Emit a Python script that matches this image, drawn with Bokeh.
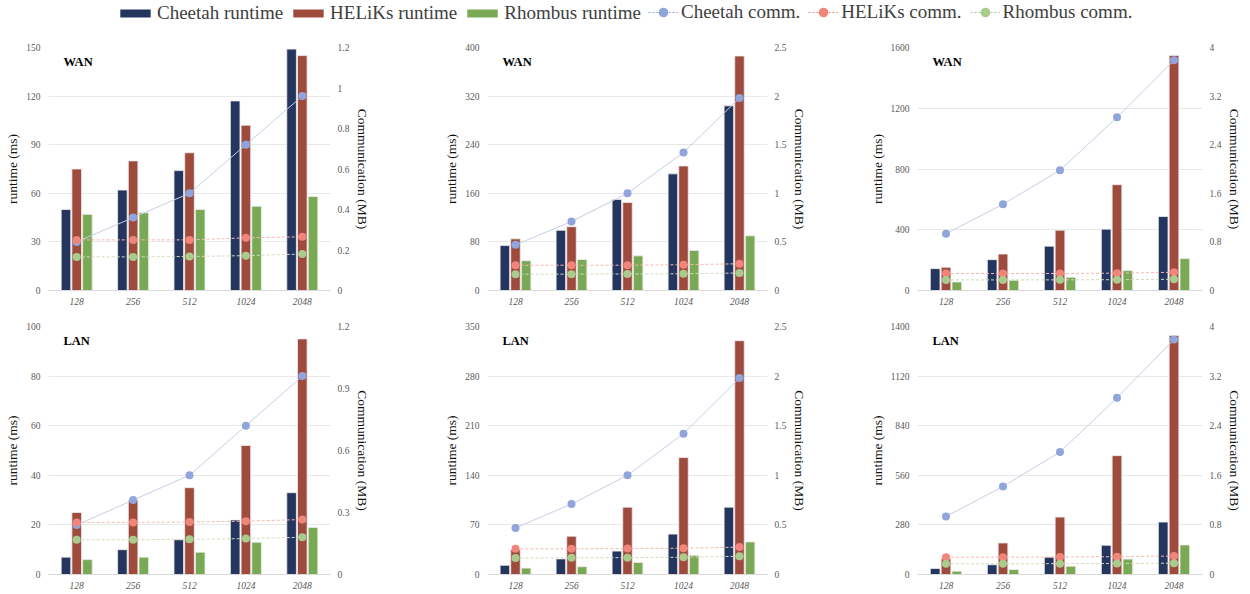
from bokeh.plotting import figure
from bokeh.models import (ColumnDataSource, Range1d, LinearAxis, FixedTicker,
                          CustomJSTickFormatter, Label, Legend, LegendItem)
from bokeh.layouts import column, row
from bokeh.transform import dodge
from bokeh.embed import file_html
from bokeh.resources import INLINE

# ---------------- data ----------------
sizes = ["128", "256", "512", "1024", "2048"]

# WAN, panel A
wan_a_cheetah_rt = [50, 62, 74, 117, 149]
wan_a_heliks_rt = [75, 80, 85, 102, 145]
wan_a_rhombus_rt = [47, 48, 50, 52, 58]
wan_a_cheetah_comm = [0.24, 0.36, 0.48, 0.72, 0.96]
wan_a_heliks_comm = [0.25, 0.25, 0.25, 0.26, 0.265]
wan_a_rhombus_comm = [0.166, 0.166, 0.168, 0.172, 0.18]
wan_a_rt_ticks = [0, 30, 60, 90, 120, 150]
wan_a_comm_ticks = [0, 0.2, 0.4, 0.6, 0.8, 1.0, 1.2]

# WAN, panel B
wan_b_cheetah_rt = [74, 99, 150, 192, 304]
wan_b_heliks_rt = [85, 105, 145, 205, 386]
wan_b_rhombus_rt = [49, 51, 57, 66, 90]
wan_b_cheetah_comm = [0.47, 0.71, 1.0, 1.42, 1.98]
wan_b_heliks_comm = [0.26, 0.26, 0.26, 0.265, 0.275]
wan_b_rhombus_comm = [0.168, 0.168, 0.17, 0.172, 0.18]
wan_b_rt_ticks = [0, 80, 160, 240, 320, 400]
wan_b_comm_ticks = [0, 0.5, 1.0, 1.5, 2.0, 2.5]

# WAN, panel C
wan_c_cheetah_rt = [144, 203, 292, 404, 487]
wan_c_heliks_rt = [153, 240, 397, 697, 1548]
wan_c_rhombus_rt = [56, 68, 87, 131, 210]
wan_c_cheetah_comm = [0.935, 1.42, 1.98, 2.85, 3.79]
wan_c_heliks_comm = [0.28, 0.28, 0.28, 0.285, 0.3]
wan_c_rhombus_comm = [0.174, 0.174, 0.175, 0.178, 0.185]
wan_c_rt_ticks = [0, 400, 800, 1200, 1600]
wan_c_comm_ticks = [0, 0.8, 1.6, 2.4, 3.2, 4.0]

# LAN, panel A
lan_a_cheetah_rt = [7, 10, 14, 22, 33]
lan_a_heliks_rt = [25, 30, 35, 52, 95]
lan_a_rhombus_rt = [6, 7, 9, 13, 19]
lan_a_cheetah_comm = [0.24, 0.36, 0.48, 0.72, 0.96]
lan_a_heliks_comm = [0.252, 0.252, 0.254, 0.258, 0.266]
lan_a_rhombus_comm = [0.168, 0.168, 0.17, 0.174, 0.18]
lan_a_rt_ticks = [0, 20, 40, 60, 80, 100]
lan_a_comm_ticks = [0, 0.3, 0.6, 0.9, 1.2]

# LAN, panel B
lan_b_cheetah_rt = [13, 22, 33, 57, 95]
lan_b_heliks_rt = [35, 54, 95, 165, 330]
lan_b_rhombus_rt = [9, 11, 17, 27, 46]
lan_b_cheetah_comm = [0.47, 0.71, 1.0, 1.42, 1.98]
lan_b_heliks_comm = [0.259, 0.259, 0.262, 0.265, 0.276]
lan_b_rhombus_comm = [0.167, 0.168, 0.17, 0.174, 0.184]
lan_b_rt_ticks = [0, 70, 140, 210, 280, 350]
lan_b_comm_ticks = [0, 0.5, 1.0, 1.5, 2.0, 2.5]

# LAN, panel C
lan_c_cheetah_rt = [34, 55, 98, 165, 296]
lan_c_heliks_rt = [89, 178, 324, 671, 1349]
lan_c_rhombus_rt = [19, 28, 47, 87, 167]
lan_c_cheetah_comm = [0.935, 1.42, 1.975, 2.85, 3.79]
lan_c_heliks_comm = [0.28, 0.28, 0.283, 0.287, 0.297]
lan_c_rhombus_comm = [0.172, 0.172, 0.175, 0.178, 0.183]
lan_c_rt_ticks = [0, 280, 560, 840, 1120, 1400]
lan_c_comm_ticks = [0, 0.8, 1.6, 2.4, 3.2, 4.0]

series_labels = ["Cheetah runtime", "HELiKs runtime", "Rhombus runtime",
                 "Cheetah comm.", "HELiKs comm.", "Rhombus comm."]

# ---------------- style ----------------
FONT = "Liberation Serif"
C_CH, C_HE, C_RH = "#24355e", "#9e4a3d", "#7aa955"
D_CH, D_HE, D_RH = "#8fa5dc", "#f1857b", "#a9cc8c"
L_CH, L_HE, L_RH = "#c6cee6", "#f2bab3", "#d2dbbf"
TICK_COLOR = "#595959"

COL_BORDERS = [(48, 100), (57, 73), (77, 48)]
COL_WIDTHS = [430, 410, 410]
ROW_SPECS = {0: dict(height=284, top=21, bottom=20),
             1: dict(height=284, top=16, bottom=20)}


def style_yaxis(ax, label):
    ax.axis_label = label
    ax.axis_label_text_font = FONT
    ax.axis_label_text_font_style = "normal"
    ax.axis_label_text_font_size = "13.5px"
    ax.axis_label_text_color = "#111111"
    ax.axis_label_standoff = 3
    ax.major_label_text_font = FONT
    ax.major_label_text_font_size = "9.5px"
    ax.major_label_text_color = TICK_COLOR
    ax.major_label_standoff = 8
    ax.axis_line_color = None
    ax.major_tick_line_color = None
    ax.minor_tick_line_color = None
    ax.major_tick_out = 0
    ax.major_tick_in = 0
    ax.minor_tick_out = 0
    ax.minor_tick_in = 0


def make_panel(net, rt_ch, rt_he, rt_rh, cm_ch, cm_he, cm_rh, rt_ticks, cm_ticks, col, r):
    spec = ROW_SPECS[r]
    left, right = COL_BORDERS[col]
    p = figure(x_range=sizes, y_range=Range1d(0, rt_ticks[-1]),
               width=COL_WIDTHS[col], height=spec["height"],
               min_border_left=left, min_border_right=right,
               min_border_top=spec["top"], min_border_bottom=spec["bottom"],
               toolbar_location=None, output_backend="svg")
    p.extra_y_ranges = {"comm": Range1d(0, cm_ticks[-1])}
    p.outline_line_color = None
    p.background_fill_color = "white"

    src = ColumnDataSource(dict(size=sizes, ch=rt_ch, he=rt_he, rh=rt_rh,
                                cch=cm_ch, che=cm_he, crh=cm_rh))
    bw = 0.17
    p.vbar(x=dodge("size", -0.19, range=p.x_range), top="ch", width=bw, source=src,
           fill_color=C_CH, line_color="#eeeeee", line_width=0.8)
    p.vbar(x=dodge("size", 0.0, range=p.x_range), top="he", width=bw, source=src,
           fill_color=C_HE, line_color="#eeeeee", line_width=0.8)
    p.vbar(x=dodge("size", 0.19, range=p.x_range), top="rh", width=bw, source=src,
           fill_color=C_RH, line_color="#eeeeee", line_width=0.8)

    p.line(x="size", y="cch", source=src, y_range_name="comm", line_color=L_CH, line_width=1)
    p.line(x="size", y="che", source=src, y_range_name="comm", line_color=L_HE, line_width=1,
           line_dash="3 2")
    p.line(x="size", y="crh", source=src, y_range_name="comm", line_color=L_RH, line_width=1,
           line_dash="3 2")
    p.scatter(x="size", y="cch", source=src, y_range_name="comm", size=8,
              fill_color=D_CH, line_color=None)
    p.scatter(x="size", y="che", source=src, y_range_name="comm", size=8,
              fill_color=D_HE, line_color=None)
    p.scatter(x="size", y="crh", source=src, y_range_name="comm", size=8,
              fill_color=D_RH, line_color=None)

    # left axis + grid
    ya = p.yaxis[0]
    ya.ticker = FixedTicker(ticks=rt_ticks)
    p.ygrid.ticker = FixedTicker(ticks=rt_ticks)
    p.ygrid.grid_line_color = "#e8e8e8"
    p.xgrid.grid_line_color = None
    style_yaxis(ya, "runtime (ms)")

    # right axis
    ra = LinearAxis(y_range_name="comm", ticker=FixedTicker(ticks=cm_ticks),
                    formatter=CustomJSTickFormatter(code="return String(parseFloat(tick.toFixed(2)));"))
    style_yaxis(ra, "Communication (MB)")
    ra.major_label_standoff = 7
    ra.axis_label_standoff = 3
    p.add_layout(ra, "right")

    # x axis
    xa = p.xaxis[0]
    xa.axis_line_color = "#d9d9d9"
    xa.major_tick_line_color = None
    xa.minor_tick_line_color = None
    xa.major_tick_out = 0
    xa.major_tick_in = 0
    xa.minor_tick_out = 0
    xa.major_label_text_font = FONT
    xa.major_label_text_font_style = "italic"
    xa.major_label_text_font_size = "9.5px"
    xa.major_label_text_color = TICK_COLOR
    xa.major_label_standoff = 7

    p.add_layout(Label(x=0, y=rt_ticks[-1], x_offset=15, y_offset=-14, text=net,
                       text_font=FONT, text_font_style="bold", text_font_size="12.5px",
                       text_color="black", text_baseline="middle"))
    return p


panels_top = [
    make_panel("WAN", wan_a_cheetah_rt, wan_a_heliks_rt, wan_a_rhombus_rt,
               wan_a_cheetah_comm, wan_a_heliks_comm, wan_a_rhombus_comm,
               wan_a_rt_ticks, wan_a_comm_ticks, 0, 0),
    make_panel("WAN", wan_b_cheetah_rt, wan_b_heliks_rt, wan_b_rhombus_rt,
               wan_b_cheetah_comm, wan_b_heliks_comm, wan_b_rhombus_comm,
               wan_b_rt_ticks, wan_b_comm_ticks, 1, 0),
    make_panel("WAN", wan_c_cheetah_rt, wan_c_heliks_rt, wan_c_rhombus_rt,
               wan_c_cheetah_comm, wan_c_heliks_comm, wan_c_rhombus_comm,
               wan_c_rt_ticks, wan_c_comm_ticks, 2, 0),
]
panels_bottom = [
    make_panel("LAN", lan_a_cheetah_rt, lan_a_heliks_rt, lan_a_rhombus_rt,
               lan_a_cheetah_comm, lan_a_heliks_comm, lan_a_rhombus_comm,
               lan_a_rt_ticks, lan_a_comm_ticks, 0, 1),
    make_panel("LAN", lan_b_cheetah_rt, lan_b_heliks_rt, lan_b_rhombus_rt,
               lan_b_cheetah_comm, lan_b_heliks_comm, lan_b_rhombus_comm,
               lan_b_rt_ticks, lan_b_comm_ticks, 1, 1),
    make_panel("LAN", lan_c_cheetah_rt, lan_c_heliks_rt, lan_c_rhombus_rt,
               lan_c_cheetah_comm, lan_c_heliks_comm, lan_c_rhombus_comm,
               lan_c_rt_ticks, lan_c_comm_ticks, 2, 1),
]

# ---------------- legend strip ----------------
lg = figure(width=1250, height=26, x_range=Range1d(0, 1), y_range=Range1d(0, 1),
            x_axis_type=None, y_axis_type=None, min_border=0,
            toolbar_location=None, output_backend="svg")
lg.outline_line_color = None
lg.grid.visible = False
# off-screen proxy points so that the legend swatches get their styles
proxy = ColumnDataSource(dict(x=[-10, -11], y=[-10, -11]))
b1 = lg.vbar(x="x", top="y", width=0.1, source=proxy, fill_color=C_CH, line_color=None)
b2 = lg.vbar(x="x", top="y", width=0.1, source=proxy, fill_color=C_HE, line_color=None)
b3 = lg.vbar(x="x", top="y", width=0.1, source=proxy, fill_color=C_RH, line_color=None)
l1 = lg.line(x="x", y="y", source=proxy, line_color=D_CH, line_dash="2 2", line_width=1)
l2 = lg.line(x="x", y="y", source=proxy, line_color=D_HE, line_dash="2 2", line_width=1)
l3 = lg.line(x="x", y="y", source=proxy, line_color=D_RH, line_dash="2 2", line_width=1)
s1 = lg.scatter(x="x", y="y", source=proxy, fill_color=D_CH, line_color=None)
s2 = lg.scatter(x="x", y="y", source=proxy, fill_color=D_HE, line_color=None)
s3 = lg.scatter(x="x", y="y", source=proxy, fill_color=D_RH, line_color=None)

common = dict(orientation="horizontal", border_line_color=None, background_fill_alpha=0,
              padding=0, margin=0, label_standoff=3,
              label_text_font=FONT, label_text_font_size="19px",
              label_text_color="#404040")
leg1 = Legend(items=[LegendItem(label=series_labels[0], renderers=[b1]),
                     LegendItem(label=series_labels[1], renderers=[b2]),
                     LegendItem(label=series_labels[2], renderers=[b3])],
              location=(116, 2), glyph_width=38, glyph_height=10, spacing=6, **common)
leg2 = Legend(items=[LegendItem(label=series_labels[3], renderers=[l1, s1]),
                     LegendItem(label=series_labels[4], renderers=[l2, s2]),
                     LegendItem(label=series_labels[5], renderers=[l3, s3])],
              location=(648, 2), glyph_width=30, glyph_height=24, spacing=8, **common)
lg.add_layout(leg1, "center")
lg.add_layout(leg2, "center")

layout = column(lg, row(*panels_top), row(*panels_bottom))
open("out.html", "w").write(file_html(layout, INLINE))
